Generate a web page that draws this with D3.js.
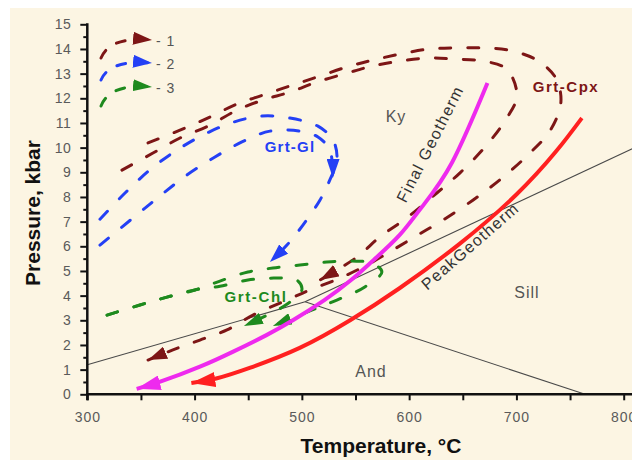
<!DOCTYPE html>
<html><head><meta charset="utf-8">
<script src="https://cdn.jsdelivr.net/npm/d3@7"></script>
<style>
html,body{margin:0;padding:0;background:#fff;}
svg{display:block;}
text{font-family:"Liberation Sans",Arial,sans-serif;}
</style></head><body>
<svg id="chart" width="632" height="462"></svg>
<script>
// ---- tick values ----
const tempTicks = [300, 350, 400, 450, 500, 550, 600, 650, 700, 750, 800];
const tempLabels = [300, 400, 500, 600, 700, 800];
const pressTicks = d3.range(0, 15.01, 0.5);
const pressLabels = d3.range(0, 16);

// ---- Al2SiO5 phase boundaries [T, P] ----
const andKy = [[300, 1.2], [503, 3.75]];
const kySill = [[503, 3.75], [810, 10.0]];
const andSill = [[503, 3.75], [764, 0]];

// ---- geotherms (from top to arrow tip) ----
const finalGeotherm = [[673, 12.62], [640, 9.4], [612, 7.6], [591, 6.45], [567, 5.45], [545, 4.6], [521, 3.82], [492, 3.01], [467, 2.4], [436, 1.73], [405, 1.12], [368, 0.51], [346, 0.22]];
const peakGeotherm = [[761, 11.2], [737, 9.85], [700, 8.1], [647, 6.1], [591, 4.3], [545, 3.0], [498, 1.88], [452, 1.08], [421, 0.65], [397, 0.46]];

// ---- P-T path 1 (Grt-Cpx) ----
const path1Outer = [[356.6, 10.19], [386.4, 10.71], [414.3, 11.24], [439.5, 11.77], [463.7, 12.13], [488.9, 12.5], [514.0, 12.86], [542.0, 13.27], [566.2, 13.55], [591.3, 13.79], [617.4, 13.99], [642.6, 14.04], [668.7, 14.04], [692.9, 13.95], [719.0, 13.55], [736.7, 12.82], [741.4, 11.81], [731.1, 10.67], [710.6, 9.7], [684.5, 8.69], [659.4, 7.87], [631.4, 7.06], [608.1, 6.46], [584.8, 5.85], [560.6, 5.24], [535.4, 4.71], [507.5, 4.23], [486.1, 3.82], [454.4, 3.21], [430.2, 2.61], [405.0, 2.2], [379.8, 1.8], [356.6, 1.39]];
const path1Inner = [[332.3, 9.09], [361.2, 9.78], [386.4, 10.39], [414.3, 10.91], [439.5, 11.52], [463.7, 11.93], [488.9, 12.25], [514.0, 12.66], [542.0, 13.02], [566.2, 13.31], [591.3, 13.51], [617.4, 13.63], [642.6, 13.59], [668.7, 13.51], [691.0, 13.18], [700.4, 12.09], [689.2, 11.08], [670.6, 10.02], [647.2, 8.97], [625.8, 8.16], [597.8, 7.15], [572.7, 6.38], [551.3, 5.56], [516.8, 4.63]];

// ---- P-T path 2 (Grt-Gl) ----
const path2Outer = [[311.8, 7.1], [336.1, 8.2], [360.3, 9.17], [386.4, 9.98], [411.5, 10.59], [436.7, 11.04], [462.8, 11.28], [488.9, 11.2], [515.0, 10.87], [529.0, 10.31], [532.7, 9.5], [526.1, 8.69], [516.8, 7.87], [501.0, 6.86], [486.1, 6.05], [470.2, 5.36]];
const path2Inner = [[311.8, 6.05], [342.6, 7.15], [367.7, 8.04], [392.9, 8.89], [419.0, 9.62], [444.1, 10.23], [470.2, 10.67], [498.2, 10.67], [515.0, 10.43], [526.1, 9.9], [528.9, 8.77]];

// ---- P-T path 3 (Grt-Chl) ----
const path3Outer = [[318.4, 3.21], [349.1, 3.62], [374.3, 3.94], [400.3, 4.23], [423.6, 4.59], [449.7, 4.96], [473.0, 5.12], [498.2, 5.24], [523.3, 5.36], [546.6, 5.4], [565.3, 5.32], [574.6, 4.96], [558.7, 4.35], [532.6, 3.82], [507.5, 3.38], [473.0, 2.77]];
const path3Inner = [[318.4, 3.21], [349.1, 3.62], [374.3, 3.94], [400.3, 4.23], [423.6, 4.38], [449.7, 4.63], [474.8, 4.71], [495.3, 4.63], [500.0, 4.23], [485.0, 3.62], [446.0, 2.77]];

const colors = {p1: "#7d1616", p2: "#2440f5", p3: "#1e8a1e", fin: "#ee2aee", peak: "#ff2020", phase: "#4a4a4a"};

const svg = d3.select("#chart");
const x = d3.scaleLinear().domain([300, 800]).range([87.3, 623.7]);
const y = d3.scaleLinear().domain([0, 15]).range([394.3, 24.3]);

svg.append("rect").attr("x", 10).attr("y", 8).attr("width", 622).attr("height", 452).attr("fill", "#fcf5e3");

// markers
const defs = svg.append("defs");
function marker(id, color, len, wid) {
  defs.append("marker").attr("id", id).attr("markerUnits", "userSpaceOnUse")
    .attr("viewBox", `0 0 ${len} ${wid}`).attr("refX", len).attr("refY", wid / 2)
    .attr("markerWidth", len).attr("markerHeight", wid).attr("orient", "auto")
    .append("path").attr("d", `M0,0 L${len},${wid / 2} L0,${wid} Z`).attr("fill", color);
}
marker("m1", colors.p1, 19, 13);
marker("m2", colors.p2, 19, 13);
marker("m3", colors.p3, 19, 12);
marker("mf", colors.fin, 24, 15);
marker("mp", colors.peak, 24, 15);

const straight = d3.line().x(d => x(d[0])).y(d => y(d[1]));
const smooth = d3.line().x(d => x(d[0])).y(d => y(d[1])).curve(d3.curveCatmullRom.alpha(0.5));
const spline = d3.line().x(d => x(d[0])).y(d => y(d[1])).curve(d3.curveNatural);

// phase boundaries
[andKy, kySill, andSill].forEach(seg => {
  svg.append("path").attr("d", straight(seg)).attr("fill", "none").attr("stroke", colors.phase).attr("stroke-width", 1.1);
});

// dashed P-T paths
const dashed = [
  [path1Outer, colors.p1, "m1"], [path1Inner, colors.p1, "m1"],
  [path2Outer, colors.p2, "m2"], [path2Inner, colors.p2, "m2"],
  [path3Outer, colors.p3, "m3"], [path3Inner, colors.p3, "m3"]
];
dashed.forEach(([data, c, m]) => {
  svg.append("path").attr("d", smooth(data)).attr("fill", "none").attr("stroke", c)
    .attr("stroke-width", 3).attr("stroke-dasharray", "11,17").attr("stroke-linecap", "round")
    .attr("marker-end", `url(#${m})`);
});

// geotherms
svg.append("path").attr("d", spline(peakGeotherm)).attr("fill", "none").attr("stroke", colors.peak)
  .attr("stroke-width", 4).attr("marker-end", "url(#mp)");
svg.append("path").attr("d", spline(finalGeotherm)).attr("fill", "none").attr("stroke", colors.fin)
  .attr("stroke-width", 4).attr("marker-end", "url(#mf)");

// labels
function label(txt, px, py, opts) {
  const t = svg.append("text").text(txt).attr("text-anchor", "middle")
    .attr("font-size", opts.size || 16).attr("fill", opts.fill || "#555")
    .attr("font-weight", opts.bold ? "bold" : "normal")
    .attr("letter-spacing", opts.ls || 0);
  if (opts.rot) t.attr("transform", `translate(${px},${py}) rotate(${opts.rot})`).attr("dy", "0.35em");
  else t.attr("x", px).attr("y", py);
}
label("Ky", 396, 122, {ls: 1});
label("Sill", 527, 298, {ls: 1});
label("And", 371, 377, {ls: 1});
label("Grt-Gl", 290, 152, {bold: true, size: 15, fill: colors.p2, ls: 1.2});
label("Grt-Cpx", 566, 92, {bold: true, size: 15, fill: colors.p1, ls: 1.5});
label("Grt-Chl", 256, 302, {bold: true, size: 15, fill: colors.p3, ls: 1.6});
label("Final Geotherm", 430, 144, {size: 16, fill: "#333", ls: 1.3, rot: -63});
label("PeakGeotherm", 470, 246, {size: 16, fill: "#333", ls: 1.3, rot: -41});

// legend
const legendItems = [
  {c: colors.p1, m: "m1", y0: 58, y1: 40, txt: "- 1"},
  {c: colors.p2, m: "m2", y0: 80, y1: 63, txt: "- 2"},
  {c: colors.p3, m: "m3", y0: 106, y1: 87, txt: "- 3"}
];
legendItems.forEach(d => {
  svg.append("path").attr("d", `M101,${d.y0} Q110,${d.y1 - 4} 152,${d.y1}`)
    .attr("fill", "none").attr("stroke", d.c).attr("stroke-width", 3)
    .attr("stroke-dasharray", "9,13").attr("stroke-linecap", "round").attr("marker-end", `url(#${d.m})`);
  svg.append("text").text(d.txt).attr("x", 156).attr("y", d.y1 + 6).attr("font-size", 14).attr("fill", "#555").attr("letter-spacing", 1);
});

// axes
const xAxis = svg.append("g").attr("transform", `translate(0,${y(0)})`)
  .call(d3.axisBottom(x).tickValues(tempTicks).tickSize(6).tickSizeOuter(0)
    .tickFormat(d => tempLabels.includes(d) ? d : ""));
xAxis.select(".domain").remove();
xAxis.selectAll(".tick line").attr("stroke", "#111").attr("stroke-width", 2);
xAxis.selectAll(".tick text").attr("y", 17.5).attr("font-size", 14).attr("fill", "#5a5a5a").attr("letter-spacing", 1)
  .attr("font-family", "Liberation Sans, Arial, sans-serif");

const yAxis = svg.append("g").attr("transform", `translate(${x(300)},0)`)
  .call(d3.axisLeft(y).tickValues(pressTicks).tickSizeOuter(0)
    .tickFormat(d => Number.isInteger(d) ? d : ""));
yAxis.select(".domain").remove();
yAxis.selectAll(".tick line").attr("x2", d => Number.isInteger(d) ? -7 : -4).attr("stroke", "#111").attr("stroke-width", 2);
yAxis.selectAll(".tick text").attr("x", -16).attr("font-size", 14).attr("fill", "#5a5a5a").attr("letter-spacing", 0.5)
  .attr("font-family", "Liberation Sans, Arial, sans-serif");

svg.append("line").attr("x1", x(300) - 1).attr("x2", 632).attr("y1", y(0)).attr("y2", y(0)).attr("stroke", "#111").attr("stroke-width", 2.5);
svg.append("line").attr("x1", x(300)).attr("x2", x(300)).attr("y1", y(15) - 1).attr("y2", y(0) + 6).attr("stroke", "#111").attr("stroke-width", 2.5);

// axis titles
svg.append("text").text("Temperature, °C").attr("x", 381).attr("y", 453).attr("text-anchor", "middle")
  .attr("font-size", 21).attr("font-weight", "bold").attr("fill", "#111");
svg.append("text").text("Pressure, kbar").attr("transform", "translate(40,213) rotate(-90)").attr("text-anchor", "middle")
  .attr("font-size", 21).attr("font-weight", "bold").attr("fill", "#111");
</script>
</body></html>
